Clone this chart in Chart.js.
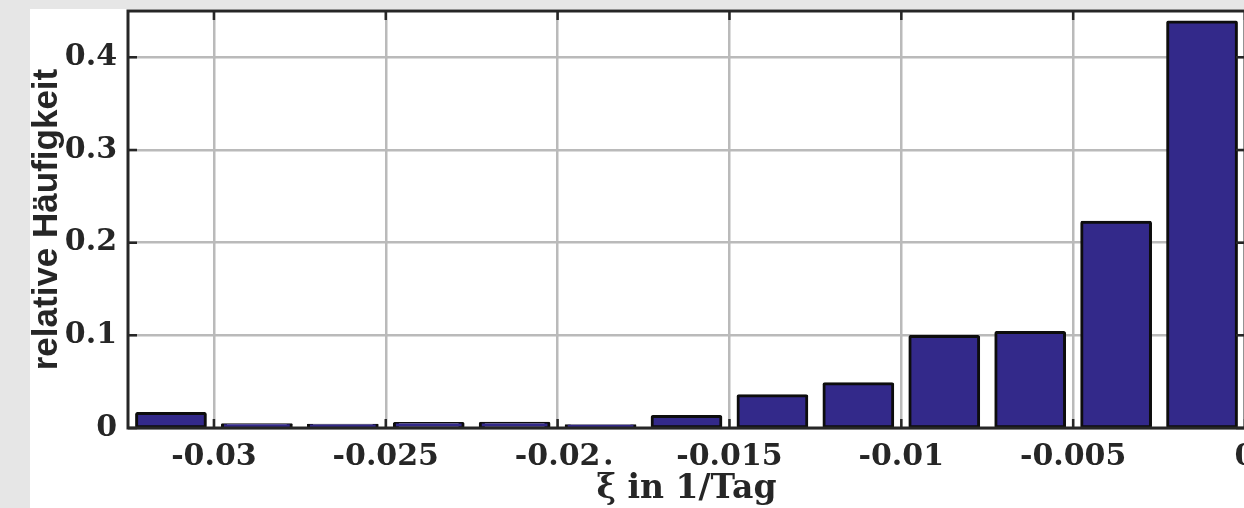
<!DOCTYPE html>
<html>
<head>
<meta charset="utf-8">
<script src="https://cdn.jsdelivr.net/npm/chart.js@4.4.1/dist/chart.umd.min.js"></script>
<style>
  html, body { margin: 0; padding: 0; background: #e6e6e6; overflow: hidden; width: 1244px; height: 508px; }
  #panel { position: absolute; left: 30px; top: 9px; width: 1260px; height: 499px; background: #ffffff; }
  canvas { display: block; }
</style>
</head>
<body>
<div id="panel"><canvas id="hist" width="1260" height="499"></canvas></div>
<script>
// Histogram bins (centre of each 0.0025-wide class, in 1/Tag)
const binCenters = [-0.03125, -0.02875, -0.02625, -0.02375, -0.02125, -0.01875, -0.01625,
                    -0.01375, -0.01125, -0.00875, -0.00625, -0.00375, -0.00125];
// Relative frequency per bin
const frequencies = [0.0156, 0.0035, 0.0030, 0.0049, 0.0050, 0.0024, 0.0124,
                     0.0347, 0.0477, 0.0987, 0.1030, 0.2220, 0.4380];

const xTickValues = [-0.03, -0.025, -0.02, -0.015, -0.01, -0.005, 0];
const xTickLabels = ['-0.03', '-0.025', '-0.02', '-0.015', '-0.01', '-0.005', '0'];
const yTickValues = [0, 0.1, 0.2, 0.3, 0.4];
const yTickLabels = ['0', '0.1', '0.2', '0.3', '0.4'];

const xRange = [-0.0325, 0];
const yRange = [0, 0.45];

const INK = '#262626';
const serifBold = 'DejaVu Serif';
const tickFont = { family: serifBold, weight: 'bold', size: 30 };

// Box frame with inward tick marks on all four sides
const framePlugin = {
  id: 'frame',
  afterDatasetsDraw(chart) {
    const { ctx, chartArea: a, scales: { x, y } } = chart;
    ctx.save();
    ctx.strokeStyle = INK;
    ctx.lineWidth = 3;
    ctx.strokeRect(a.left, a.top, a.right - a.left, a.bottom - a.top);
    ctx.lineWidth = 2.5;
    const len = 9;
    ctx.beginPath();
    xTickValues.forEach(v => {
      const p = x.getPixelForValue(v);
      ctx.moveTo(p, a.bottom); ctx.lineTo(p, a.bottom - len);
      ctx.moveTo(p, a.top); ctx.lineTo(p, a.top + len);
    });
    yTickValues.forEach(v => {
      const p = y.getPixelForValue(v);
      ctx.moveTo(a.left, p); ctx.lineTo(a.left + len, p);
      ctx.moveTo(a.right, p); ctx.lineTo(a.right - len, p);
    });
    ctx.stroke();
    ctx.restore();
  }
};

// Time-derivative dot placed above the ξ of the x-axis title
const xiDotPlugin = {
  id: 'xiDot',
  afterDraw(chart) {
    const x = chart.scales.x;
    const t = x.options.title;
    const { ctx } = chart;
    ctx.save();
    ctx.font = `bold ${t.font.size}px "${serifBold}"`;
    const full = ctx.measureText(t.text).width;
    const xi = ctx.measureText('ξ').width;
    const cx = (x.left + x.right) / 2 - full / 2 + xi / 2 + 2;
    const cy = x.bottom - t.padding.bottom - t.font.size / 2 - 27.5;
    ctx.fillStyle = INK;
    ctx.beginPath();
    ctx.arc(cx, cy, 2.7, 0, Math.PI * 2);
    ctx.fill();
    ctx.restore();
  }
};

new Chart(document.getElementById('hist'), {
  type: 'bar',
  data: {
    datasets: [{
      data: binCenters.map((c, i) => ({ x: c, y: frequencies[i] })),
      backgroundColor: '#33298a',
      borderColor: '#0d0d0d',
      borderWidth: 3,
      borderSkipped: false,
      borderRadius: 2,
      inflateAmount: 1.5,
      barPercentage: 0.8,
      categoryPercentage: 1.0
    }]
  },
  options: {
    responsive: false,
    animation: false,
    events: [],
    layout: { padding: { left: 0, right: 45, top: 2, bottom: 0 } },
    plugins: { legend: { display: false }, tooltip: { enabled: false } },
    scales: {
      x: {
        type: 'linear',
        offset: false,
        min: xRange[0],
        max: xRange[1],
        afterBuildTicks: s => { s.ticks = xTickValues.map(v => ({ value: v })); },
        afterFit: s => { s.height = 80; s.paddingLeft = 0; s.paddingRight = 0; },
        ticks: {
          autoSkip: false,
          maxRotation: 0,
          padding: 11,
          color: INK,
          font: tickFont,
          callback: (v, i) => xTickLabels[i]
        },
        grid: { offset: false, color: '#bababa', lineWidth: 2.5, drawTicks: false },
        border: { display: false },
        title: {
          display: true,
          text: 'ξ in 1/Tag',
          color: INK,
          font: { family: serifBold, weight: 'bold', size: 33, lineHeight: 1 },
          padding: { top: 0, bottom: 2 }
        }
      },
      y: {
        min: yRange[0],
        max: yRange[1],
        afterBuildTicks: s => { s.ticks = yTickValues.map(v => ({ value: v })); },
        afterFit: s => { s.width = 98; s.paddingTop = 0; s.paddingBottom = 0; },
        ticks: {
          padding: 11,
          color: INK,
          font: tickFont,
          callback: (v, i) => yTickLabels[i]
        },
        grid: { color: '#bababa', lineWidth: 2.5, drawTicks: false },
        border: { display: false },
        title: {
          display: true,
          text: 'relative Häufigkeit',
          color: INK,
          font: { family: 'Liberation Sans', weight: 'bold', size: 35, lineHeight: 1 },
          padding: { top: 0, bottom: 0 }
        }
      }
    }
  },
  plugins: [framePlugin, xiDotPlugin]
});
</script>
</body>
</html>
